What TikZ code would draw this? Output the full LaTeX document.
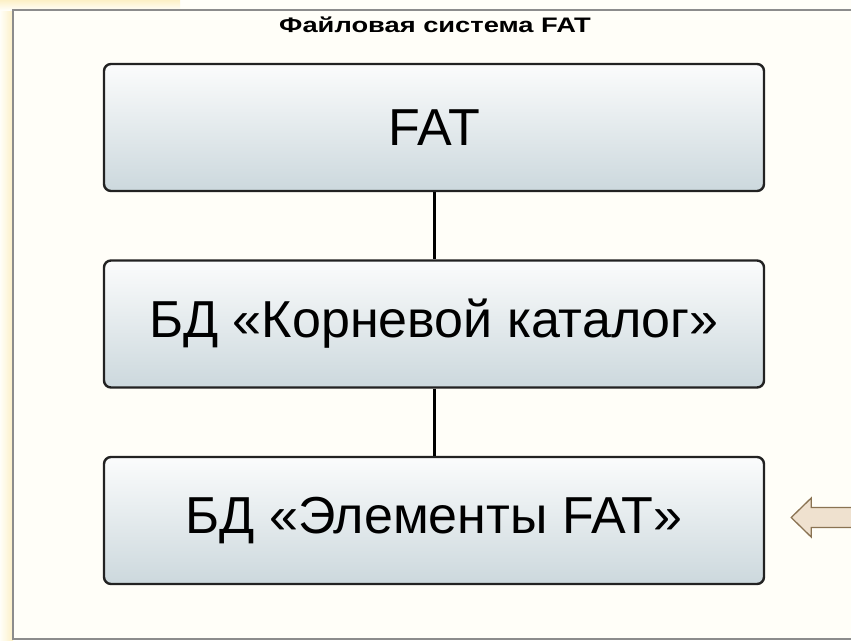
\documentclass[tikz,border=0pt]{standalone}
\usepackage{fontspec}
\setmainfont{Liberation Sans}
\usetikzlibrary{positioning,calc}
\definecolor{Cream}{HTML}{FFFEF8}
\definecolor{GlowYellow}{HTML}{FCF0C6}
\definecolor{FrameGray}{HTML}{8C8C8C}
\definecolor{BoxTop}{HTML}{FBFCFC}
\definecolor{BoxBottom}{HTML}{CCD8DD}
\definecolor{BoxLine}{HTML}{222222}
\definecolor{ArrowFill}{HTML}{EFE1CF}
\definecolor{ArrowLine}{HTML}{8A7353}

\begin{document}
\begin{tikzpicture}[x=1pt,y=-1pt,line width=.7pt,
  dbbox/.style={draw=BoxLine,line width=2.4pt,rounded corners=7pt,top color=BoxTop,bottom color=BoxBottom,
    minimum width=660pt,minimum height=127pt,inner sep=0pt,font=\fontsize{52}{60}\selectfont}]
% fond
\fill[Cream] (0,0) rectangle (851,640);
\useasboundingbox (0,0) rectangle (851,640);
\shade[left color=Cream,right color=GlowYellow] (0,0) rectangle (13,640);
\shade[top color=GlowYellow,bottom color=Cream] (0,0) rectangle (180,10);
\draw[FrameGray,line width=1.2pt] (851,10)--(13,10)--(13,639)--(851,639);
% titre
\node[font=\bfseries\fontsize{21}{24}\selectfont] (title) at (435,25) {\scalebox{1.3}[1]{Файловая система FAT}};
% blocs
\node[dbbox] (fat) at (434,127.5) {FAT};
\node[dbbox] (root) at (434,324) {БД «Корневой каталог»};
\node[dbbox] (elems) at (434,520.5) {БД «Элементы FAT»};
% liaisons
\draw[line width=3pt] (fat.south)--(root.north);
\draw[line width=3pt] (root.south)--(elems.north);
% fleche
\coordinate (tip) at ($(elems.east)+(26,-3)$);
\draw[ArrowLine,fill=ArrowFill,line width=1.3pt,line join=miter]
  (tip)--++(20,-19.5)--++(0,9.5)--++(60,0)--++(0,20)--++(-60,0)--++(0,9.5)--cycle;
\end{tikzpicture}
\end{document}
